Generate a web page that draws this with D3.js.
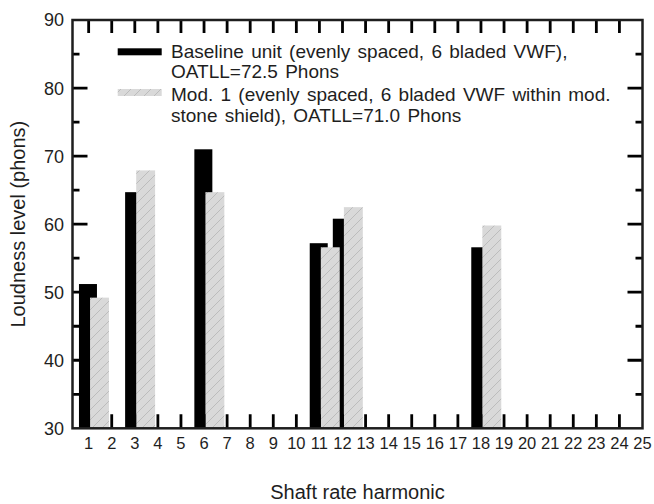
<!DOCTYPE html>
<html>
<head>
<meta charset="utf-8">
<script src="https://cdn.jsdelivr.net/npm/d3@7"></script>
<style>
  html, body { margin: 0; padding: 0; background: #fff; }
  svg { display: block; font-family: "Liberation Sans", Arial, Helvetica, sans-serif; }
</style>
</head>
<body>
<svg id="chart" width="654" height="504"></svg>
<script>
// ---- data ----
const harmonics = [1, 3, 6, 11, 12, 18];
const baselineValues = [51.2, 64.7, 71.0, 57.2, 60.8, 56.6];
const mod1Values = [49.2, 67.9, 64.7, 56.6, 62.5, 59.8];
const xTickValues = d3.range(1, 26);
const yMajorTicks = [30, 40, 50, 60, 70, 80, 90];
const yMinorTicks = [35, 45, 55, 65, 75, 85];
const legendLines = [
  ["Baseline unit (evenly spaced, 6 bladed VWF),", "OATLL=72.5 Phons"],
  ["Mod. 1 (evenly spaced, 6 bladed VWF within mod.", "stone shield), OATLL=71.0 Phons"]
];
const xTitle = "Shaft rate harmonic";
const yTitle = "Loudness level (phons)";

// ---- layout ----
const svg = d3.select("#chart");
const L = 72.5, R = 642.5, T = 20, B = 428.3;
const x = d3.scaleLinear().domain([0.3, 25]).range([L, R]);
const y = d3.scaleLinear().domain([30, 90]).range([B, T]);
const ink = "#1e1e1e";

const defs = svg.append("defs");
const pat = defs.append("pattern")
  .attr("id", "hatch").attr("patternUnits", "userSpaceOnUse")
  .attr("width", 10).attr("height", 10);
pat.append("rect").attr("width", 10).attr("height", 10).attr("fill", "#d9d9d9");
pat.append("path").attr("d", "M-1,1 L1,-1 M0,10 L10,0 M9,11 L11,9")
  .attr("stroke", "#bcbcbc").attr("stroke-width", 1);

// bars: all black first, then grey on top
const base = harmonics.map((h, i) => ({ h, v: baselineValues[i] }));
const mod = harmonics.map((h, i) => ({ h, v: mod1Values[i] }));

svg.append("g").selectAll("rect").data(base).join("rect")
  .attr("x", d => x(d.h - 0.42))
  .attr("width", d => x(d.h + 0.36) - x(d.h - 0.42))
  .attr("y", d => y(d.v))
  .attr("height", d => y(30) - y(d.v))
  .attr("fill", "#000");

svg.append("g").selectAll("rect").data(mod).join("rect")
  .attr("x", d => x(d.h + 0.06))
  .attr("width", d => x(d.h + 0.88) - x(d.h + 0.06))
  .attr("y", d => y(d.v))
  .attr("height", d => y(30) - y(d.v))
  .attr("fill", "url(#hatch)");

// inward ticks on all four sides, positioned by the scales
const xIn = xTickValues.filter(d => d < 25);
const yMajIn = yMajorTicks.filter(d => d > 30 && d < 90);
let dstr = "";
xIn.forEach(d => { dstr += `M${x(d)},${B}V${B - 14}M${x(d)},${T}V${T + 13}`; });
yMajIn.forEach(d => { dstr += `M${L},${y(d)}H${L + 15}M${R},${y(d)}H${R - 15}`; });
yMinorTicks.forEach(d => { dstr += `M${L},${y(d)}H${L + 7}M${R},${y(d)}H${R - 7}`; });
svg.append("path").attr("d", dstr).attr("fill", "none")
  .attr("stroke", "#000000").attr("stroke-width", 2.8);

// tick labels
svg.append("g").selectAll("text").data(xTickValues).join("text")
  .attr("x", d => x(d)).attr("y", B + 20.7).attr("text-anchor", "middle")
  .attr("font-size", 16.5).attr("fill", ink).text(d => d);
svg.append("g").selectAll("text").data(yMajorTicks).join("text")
  .attr("x", L - 8.5).attr("y", d => y(d)).attr("dy", "0.36em").attr("text-anchor", "end")
  .attr("font-size", 18).attr("fill", ink).text(d => d);

// frame
svg.append("rect").attr("x", L).attr("y", T).attr("width", R - L).attr("height", B - T)
  .attr("fill", "none").attr("stroke", ink).attr("stroke-width", 2.5);

// legend
const legend = svg.append("g");
const swatchFills = ["#000", "url(#hatch)"];
const swatchY = [48.3, 89];
const textY = [57.5, 101];
legendLines.forEach((lines, i) => {
  legend.append("rect").attr("x", 117.7).attr("y", swatchY[i]).attr("width", 44).attr("height", 7)
    .attr("fill", swatchFills[i]);
  const t = legend.append("text").attr("x", 171).attr("y", textY[i])
    .attr("font-size", 19).attr("word-spacing", 2).attr("fill", ink);
  lines.forEach((ln, j) => {
    t.append("tspan").attr("x", 171).attr("dy", j === 0 ? 0 : 20.6).text(ln);
  });
});

// titles
svg.append("text").attr("x", (L + R) / 2).attr("y", 499).attr("text-anchor", "middle")
  .attr("font-size", 20).attr("fill", ink).text(xTitle);
svg.append("text").attr("transform", `translate(25,${(T + B) / 2}) rotate(-90)`)
  .attr("text-anchor", "middle").attr("font-size", 20).attr("fill", ink).text(yTitle);
</script>
</body>
</html>
